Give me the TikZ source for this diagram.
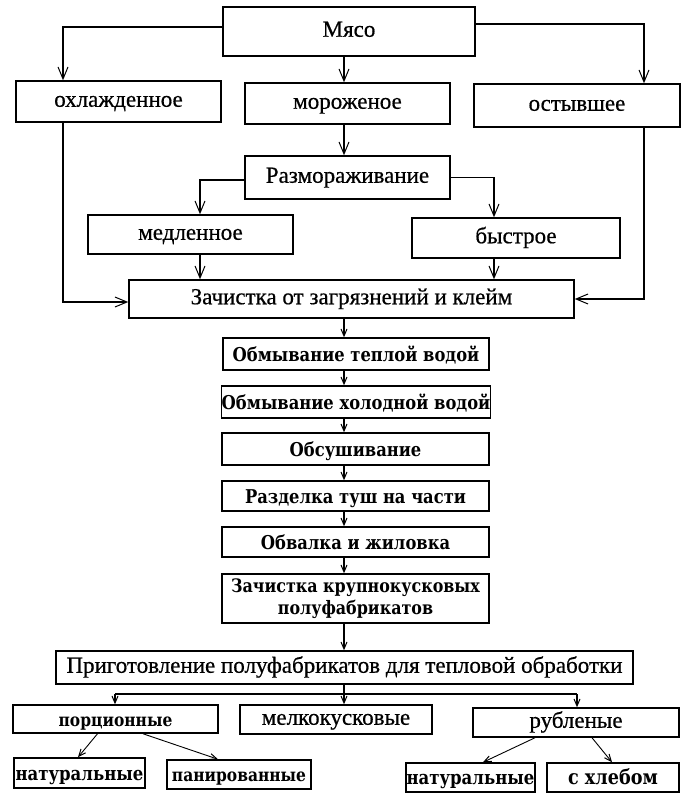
\documentclass[tikz,border=0pt]{standalone}
\usepackage{fontspec}
\setmainfont{Liberation Serif}
\newfontfamily\tm[FakeBold=0.6]{Liberation Serif}
\newfontfamily\cs[FakeStretch=0.86]{DejaVu Serif}
\usetikzlibrary{arrows.meta,calc}
\begin{document}
\begin{tikzpicture}[x=1pt,y=-1pt,
  box/.style={draw,line width=1.5pt,inner sep=0pt,align=center},
  tbox/.style={box,font=\tm\fontsize{23}{25}\selectfont,text height=16pt,text depth=5.5pt},
  cbox/.style={box,font=\cs\bfseries\fontsize{19}{22}\selectfont,text height=17pt,text depth=2.5pt},
  arr/.style={line width=1.2pt,-{Straight Barb[length=12pt,width=10pt,line width=1pt]}},
  sarr/.style={line width=1.2pt,-{Straight Barb[length=7pt,width=6pt,line width=1pt]}},
  ln/.style={line width=1.2pt}]
\useasboundingbox (0,0) rectangle (691,797);
\fill[white] (0,0) rectangle (691,797);
% axis coordinates
\coordinate (ax) at (344,0);
\coordinate (lx) at (63,0);
\coordinate (rx) at (644,0);
\coordinate (mlx) at (200,0);
\coordinate (mrx) at (494,0);
\coordinate (hl) at (115,694);
\coordinate (hr) at (577,694);
% top
\node[tbox,minimum width=252,minimum height=49] (myaso) at (349,31.5) {Мясо};
\node[tbox,minimum width=205,minimum height=41] (ohl) at (118.5,101.5) {охлажденное};
\node[tbox,minimum width=205,minimum height=41] (moroz) at (347.5,103.5) {мороженое};
\node[tbox,minimum width=206,minimum height=43] (ost) at (577,105.5) {остывшее};
\node[tbox,minimum width=205,minimum height=43] (razm) at (347.5,177.5) {Размораживание};
\node[tbox,minimum width=205,minimum height=39] (medl) at (190.5,234.5) {медленное};
\node[tbox,minimum width=208,minimum height=40] (bystr) at (516,238) {быстрое};
\node[tbox,minimum width=445,minimum height=38] (zach) at (351.5,299) {Зачистка от загрязнений и клейм};
% chain
\node[cbox,minimum width=266,minimum height=32] (warm) at (356,354) {Обмывание теплой водой};
\node[cbox,minimum width=268,minimum height=32] (cold) at (356,402) {Обмывание холодной водой};
\node[cbox,minimum width=267,minimum height=32] (dry) at (355.5,449) {Обсушивание};
\node[cbox,minimum width=267,minimum height=30] (razd) at (355.5,496) {Разделка туш на части};
\node[cbox,minimum width=267,minimum height=30] (obv) at (355.5,542) {Обвалка и жиловка};
\node[box,font=\cs\bfseries\fontsize{18.5}{22}\selectfont,minimum width=267,minimum height=49] (zkr) at (355.5,598.5) {Зачистка крупнокусковых\\полуфабрикатов};
\node[tbox,minimum width=577,minimum height=33] (prig) at (344.5,667.5) {Приготовление полуфабрикатов для тепловой обработки};
% bottom
\node[cbox,font=\cs\bfseries\fontsize{18}{20}\selectfont,minimum width=205,minimum height=28] (porc) at (115.5,719) {порционные};
\node[tbox,minimum width=192,minimum height=29] (melk) at (336,719.5) {мелкокусковые};
\node[tbox,minimum width=206,minimum height=29] (rub) at (576,722.5) {рубленые};
\node[cbox,font=\cs\bfseries\fontsize{19.2}{21}\selectfont,minimum width=131,minimum height=30] (nat1) at (79.5,773) {натуральные};
\node[cbox,font=\cs\bfseries\fontsize{18}{20}\selectfont,minimum width=144,minimum height=29] (pan) at (239,774.5) {панированные};
\node[cbox,font=\cs\bfseries\fontsize{19.2}{21}\selectfont,minimum width=129,minimum height=29] (nat2) at (470.5,777.5) {натуральные};
\node[cbox,font=\cs\bfseries\fontsize{20.5}{22}\selectfont,minimum width=132,minimum height=29] (hleb) at (613,777.5) {с хлебом};
% connectors top
\draw[arr] ([yshift=4.5]myaso.west) -| (lx |- ohl.north);
\draw[arr] (ax |- myaso.south) -- (ax |- moroz.north);
\draw[arr] ([yshift=7.5]myaso.east) -| (rx |- ost.north);
\draw[arr] (ax |- moroz.south) -- (ax |- razm.north);
\draw[arr] ([yshift=-2.5]razm.west) -| (mlx |- medl.north);
\draw[arr] (razm.east) -| (mrx |- bystr.north);
\draw[arr] (mlx |- medl.south) -- (mlx |- zach.north);
\draw[arr] (mrx |- bystr.south) -- (mrx |- zach.north);
\draw[arr] (lx |- ohl.south) |- ([yshift=-3]zach.west);
\draw[arr] (rx |- ost.south) |- (zach.east);
% chain
\draw[sarr] (ax |- zach.south) -- (ax |- warm.north);
\draw[sarr] (ax |- warm.south) -- (ax |- cold.north);
\draw[sarr] (ax |- cold.south) -- (ax |- dry.north);
\draw[sarr] (ax |- dry.south) -- (ax |- razd.north);
\draw[sarr] (ax |- razd.south) -- (ax |- obv.north);
\draw[sarr] (ax |- obv.south) -- (ax |- zkr.north);
\draw[sarr] (ax |- zkr.south) -- (ax |- prig.north);
% bottom
\draw[sarr] (ax |- prig.south) -- (ax |- melk.north);
\draw[ln] (hl) -- (hr);
\draw[sarr] (hl) -- (hl |- porc.north);
\draw[sarr] (hr) -- (hr |- rub.north);
\draw[sarr,line width=0.9pt] ([xshift=-18]porc.south) -- ([xshift=-1.5]nat1.north);
\draw[sarr,line width=0.9pt] ([xshift=27.5]porc.south) -- ([xshift=-21]pan.north);
\draw[sarr,line width=0.9pt] ([xshift=-41]rub.south) -- ([xshift=12.5]nat2.north);
\draw[sarr,line width=0.9pt] ([xshift=16]rub.south) -- ([xshift=-1]hleb.north);
\end{tikzpicture}
\end{document}
